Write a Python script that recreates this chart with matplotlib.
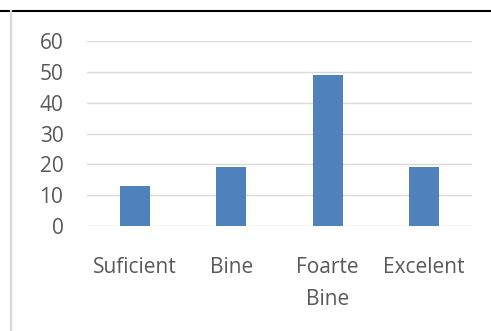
import matplotlib
matplotlib.use("Agg")
import matplotlib.pyplot as plt
from matplotlib.lines import Line2D

categories = ["Suficient", "Bine", "Foarte\nBine", "Excelent"]
values = [13, 19, 49, 19]
yticks = [0, 10, 20, 30, 40, 50, 60]

W, H = 491, 331
fig = plt.figure(figsize=(W / 100, H / 100), dpi=100)
fig.patch.set_facecolor("white")

left, right = 87 / W, 472 / W
bottom, top = (H - 226) / H, (H - 41) / H
ax = fig.add_axes([left, bottom, right - left, top - bottom])

x = list(range(len(categories)))
ax.bar(x, values, width=0.31, color="#4F81BD", zorder=3)
ax.set_xlim(-0.5, len(categories) - 0.5)
ax.set_ylim(0, 60)
ax.set_yticks(yticks)
ax.set_xticks(x)
ax.set_xticklabels(categories, linespacing=1.65)

ax.grid(axis="y", color="#D9D9D9", linewidth=1.0, zorder=0)
for s in ax.spines.values():
    s.set_visible(False)
ax.tick_params(axis="both", length=0, labelsize=15, labelcolor="#595959")
ax.tick_params(axis="y", pad=17)
ax.tick_params(axis="x", pad=22.5)
for lbl in ax.get_xticklabels() + ax.get_yticklabels():
    lbl.set_fontfamily("Open Sans")

# frame lines
fig.add_artist(Line2D([0, 1], [(H - 10.5) / H] * 2, transform=fig.transFigure,
                      color="black", linewidth=1.5))
fig.add_artist(Line2D([10.5 / W] * 2, [0, (H - 11) / H], transform=fig.transFigure,
                      color="#D9D9D9", linewidth=1.6))

fig.savefig("out.png", dpi=100, facecolor="white")
